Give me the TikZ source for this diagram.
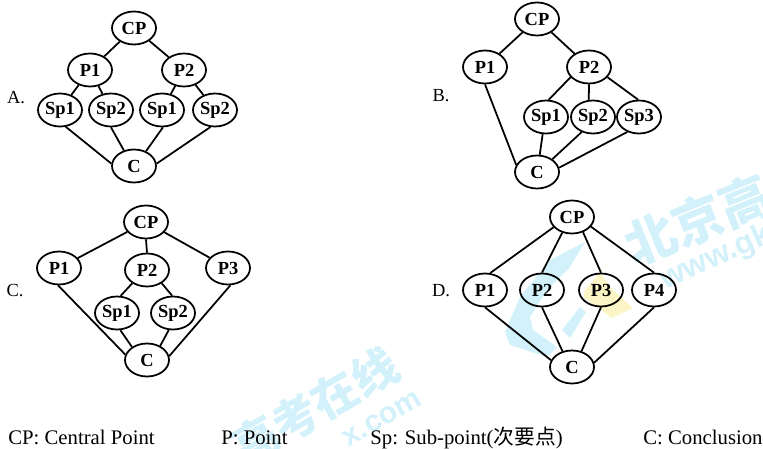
\documentclass[tikz,border=0pt]{standalone}
\usepackage{fontspec}
\setmainfont{Liberation Serif}
\newfontfamily\cjkfont{Noto Sans CJK SC}
\newfontfamily\wfont{Liberation Sans}
\usetikzlibrary{shapes.geometric}
\definecolor{wcyan}{HTML}{D2F1FA}
\definecolor{wyellow}{HTML}{FCF6C6}
\tikzset{
    idea/.style={draw, ellipse, line width=1pt, minimum width=.88cm, minimum height=.66cm, inner sep=0pt, font=\bfseries\fontsize{10.5}{10.5}\selectfont},
    link/.style={line width=1pt},
    tag/.style={font=\fontsize{10.5}{10.5}\selectfont},
    legend/.style={inner sep=0pt, font=\fontsize{11.8}{12}\selectfont, anchor=base west},
    wmark/.style={text=wcyan, inner sep=0pt, font=\cjkfont\bfseries\fontsize{26}{26}\selectfont},
    wlatin/.style={text=wcyan, inner sep=0pt, font=\wfont\bfseries}
}

\begin{document}
\begin{tikzpicture}[x=.02cm, y=-.02cm]
    \useasboundingbox (0, 0) rectangle (763, 449);

    % watermark
    \fill[wcyan] (585, 242) -- (550, 260) -- (520, 297) -- (505, 332) -- (510, 345) -- (547, 357) -- (557, 347) -- (533, 330) -- (530, 317) -- (547, 290) -- (570, 267) -- cycle;
    \fill[wcyan] (562, 330) -- (580, 307) -- (586, 312) -- (570, 338) -- cycle;
    \fill[wyellow] (610, 260) -- (585, 290) -- (583, 297) -- (612, 318) -- (633, 308) -- (613, 290) -- (600, 273) -- cycle;
    \node[wmark, rotate=22, font=\cjkfont\bfseries\fontsize{29}{29}\selectfont] (wmarka) at (698, 220) {北京高};
    \node[wlatin, rotate=24, font=\wfont\bfseries\fontsize{18}{18}\selectfont] (wlatina) at (716, 258) {www.gk};
    \node[wmark, rotate=30] (wmarkb) at (315, 406) {高考在线};
    \node[wlatin, rotate=30, font=\wfont\bfseries\fontsize{17}{17}\selectfont] (wlatinb) at (382, 419) {x.com};

    % A
    \node[tag] (taga) at (16, 98) {A.};
    \node[idea] (acp) at (134, 28) {CP};
    \node[idea] (ap1) at (90, 70) {P1};
    \node[idea] (ap2) at (184, 70) {P2};
    \node[idea] (as1) at (60, 110) {Sp1};
    \node[idea] (as2) at (111, 110) {Sp2};
    \node[idea] (as3) at (162, 110) {Sp1};
    \node[idea] (as4) at (215, 110) {Sp2};
    \node[idea] (ac) at (134, 166) {C};
    \draw[link] (acp) -- (ap1);
    \draw[link] (acp) -- (ap2);
    \draw[link] (ap1) -- (as1);
    \draw[link] (ap1) -- (as2);
    \draw[link] (ap2) -- (as3);
    \draw[link] (ap2) -- (as4);
    \draw[link] (as1.-71) -- (ac.174);
    \draw[link] (as2.-90) -- (ac.123);
    \draw[link] (as3.-87) -- (ac.51);
    \draw[link] (as4.-105) -- (ac.6);

    % B
    \node[tag] (tagb) at (441, 96) {B.};
    \node[idea] (bcp) at (537, 19) {CP};
    \node[idea] (bp1) at (485, 67) {P1};
    \node[idea] (bp2) at (589, 67) {P2};
    \node[idea] (bs1) at (546, 117) {Sp1};
    \node[idea] (bs2) at (593, 117) {Sp2};
    \node[idea] (bs3) at (639, 117) {Sp3};
    \node[idea] (bc) at (537, 172) {C};
    \draw[link] (bcp) -- (bp1);
    \draw[link] (bcp) -- (bp2);
    \draw[link] (bp2.-151) -- (bs1.81);
    \draw[link] (bp2.-90) -- (bs2.104);
    \draw[link] (bp2.-29) -- (bs3.93);
    \draw[link] (bp1.-90) -- (bc.161);
    \draw[link] (bs1.-101) -- (bc.81);
    \draw[link] (bs2.-127) -- (bc.40);
    \draw[link] (bs3.-128) -- (bc.11);

    % C
    \node[tag] (tagc) at (15, 291) {C.};
    \node[idea] (ccp) at (146, 222) {CP};
    \node[idea] (cp1) at (59, 268) {P1};
    \node[idea] (cp2) at (147, 270) {P2};
    \node[idea] (cp3) at (228, 268) {P3};
    \node[idea] (cs1) at (117, 313) {Sp1};
    \node[idea] (cs2) at (173, 313) {Sp2};
    \node[idea] (cc) at (147, 360) {C};
    \draw[link] (ccp) -- (cp1);
    \draw[link] (ccp.-90) -- (cp2.90);
    \draw[link] (ccp) -- (cp3);
    \draw[link] (cp2.-138) -- (cs1.78);
    \draw[link] (cp2.-42) -- (cs2.93);
    \draw[link] (cp1.-93) -- (cc.166);
    \draw[link] (cs1.-79) -- (cc.139);
    \draw[link] (cs2.-104) -- (cc.47);
    \draw[link] (cp3.-82) -- (cc.10);

    % D
    \node[tag] (tagd) at (441, 291) {D.};
    \node[idea] (dcp) at (572, 217) {CP};
    \node[idea] (dp1) at (485, 290) {P1};
    \node[idea] (dp2) at (542, 290) {P2};
    \node[idea] (dp3) at (601, 290) {P3};
    \node[idea] (dp4) at (654, 290) {P4};
    \node[idea] (dc) at (572, 367) {C};
    \draw[link] (dcp.-151) -- (dp1.73);
    \draw[link] (dcp.-122) -- (dp2.90);
    \draw[link] (dcp.-54) -- (dp3.90);
    \draw[link] (dcp.-27) -- (dp4.90);
    \draw[link] (dp1.-90) -- (dc.162);
    \draw[link] (dp2.-90) -- (dc.121);
    \draw[link] (dp3.-90) -- (dc.59);
    \draw[link] (dp4.-90) -- (dc.11);

    % key
    \node[legend] (keycp) at (8, 444) {CP: Central Point};
    \node[legend] (keyp) at (221, 444) {P: Point};
    \node[legend] (keysp) at (370, 444) {Sp: Sub-point({\cjkfont 次要点})};
    \node[legend] (keyc) at (643, 444) {C: Conclusion};
\end{tikzpicture}
\end{document}
